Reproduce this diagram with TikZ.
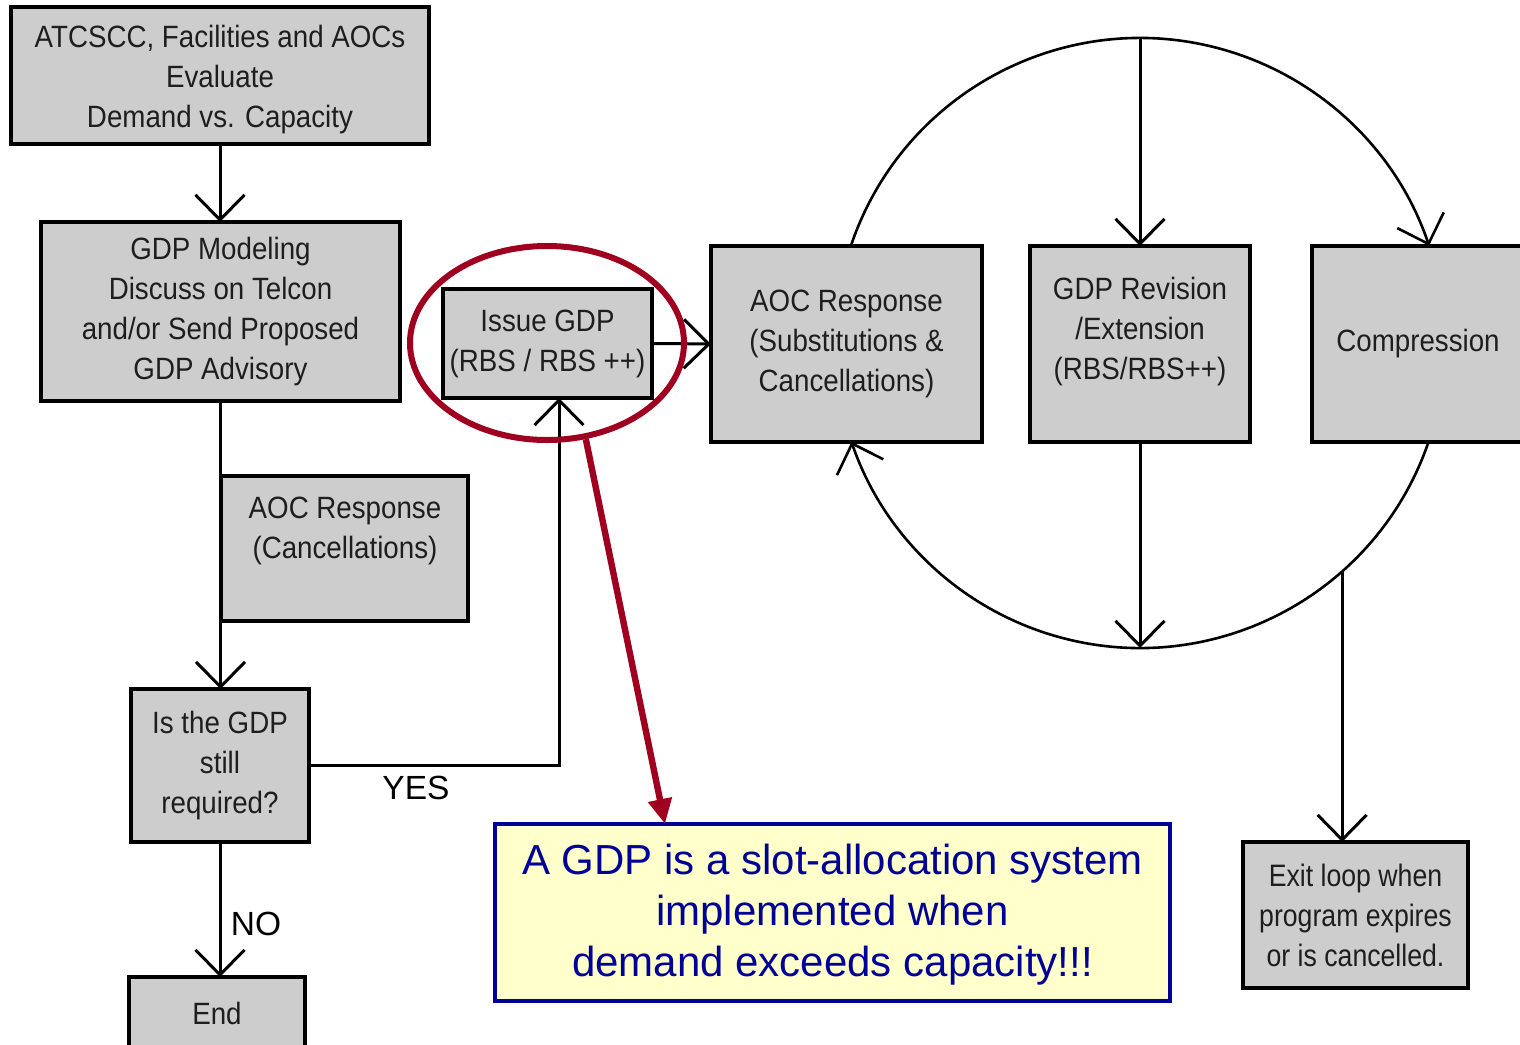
\documentclass[tikz,border=0pt]{standalone}
\usepackage{fontspec}
\setmainfont{Liberation Sans}
\newfontfamily\condf[FakeStretch=0.9]{Liberation Sans}
\newfontfamily\exitf[FakeStretch=0.86]{Liberation Sans}
\usetikzlibrary{arrows.meta,shapes.geometric,calc}
\definecolor{boxgray}{RGB}{205,205,205}
\definecolor{inkgray}{RGB}{30,30,30}
\definecolor{ringred}{RGB}{160,0,32}
\definecolor{noteblue}{RGB}{0,0,150}
\definecolor{notefill}{RGB}{255,255,204}

\begin{document}
\begin{tikzpicture}[x=0.5pt,y=0.5pt,
  >={Straight Barb[length=12.5pt,width=24.5pt]},
  box/.style={draw=black, line width=1.75pt, fill=boxgray, anchor=north west,
    inner sep=0pt, outer sep=0pt, align=center, text=inkgray,
    font=\condf\fontsize{15.4}{20}\selectfont},
  boxtxt/.style={align=center, text=inkgray, inner sep=0pt,
    font=\condf\fontsize{15.4}{20}\selectfont},
  flow/.style={line width=1.5pt, ->},
  loopline/.style={line width=1.3pt, ->},
  lbl/.style={font=\fontsize{16.75}{20}\selectfont, text=black, inner sep=0pt},
  notebox/.style={draw=noteblue, line width=1.75pt, fill=notefill, anchor=north west,
    inner sep=0pt, outer sep=0pt},
  notetxt/.style={align=center, text=noteblue, inner sep=0pt,
    font=\fontsize{21}{25.5}\selectfont},
]
\useasboundingbox (0,0) rectangle (1520,-1044);
\clip (0,0) rectangle (1520,-1044);

% left-hand flow
\node[box, minimum width=209pt, minimum height=68.5pt] (atc) at (11,-7) {};
\node[boxtxt] (atctxt) at (220,-79.5)
  {ATCSCC, Facilities and AOCs\\Evaluate\\Demand vs. Capacity};
\node[box, minimum width=179.5pt, minimum height=89.5pt] (mod) at (41,-222)
  {GDP Modeling\\Discuss on Telcon\\and/or Send Proposed\\GDP Advisory};
\node[box, minimum width=123.5pt, minimum height=72.5pt] (can) at (221,-476) {};
\node[boxtxt] (cantxt) at (345,-531) {AOC Response\\(Cancellations)};
\node[box, minimum width=89pt, minimum height=76.5pt] (req) at (131,-689)
  {Is the GDP\\still\\required?};
\node[box, minimum width=88pt, minimum height=36pt] (end) at (129,-977) {End};
\node[box, minimum width=104.5pt, minimum height=54.5pt] (iss) at (443,-289)
  {Issue GDP\\(RBS / RBS ++)};

% loop boxes
\node[box, minimum width=135.5pt, minimum height=98pt] (aoc) at (711,-246)
  {AOC Response\\(Substitutions \&\\Cancellations)};
\node[box, minimum width=110pt, minimum height=98pt] (rev) at (1030,-246) {};
\node[boxtxt] (revtxt) at (1140,-332) {GDP Revision\\/Extension\\(RBS/RBS++)};
\node[box, minimum width=106pt, minimum height=98pt] (cmp) at (1312,-246) {Compression};
\node[box, minimum width=112.5pt, minimum height=73pt,
  font=\exitf\fontsize{15.5}{20}\selectfont] (ext) at (1243,-842)
  {Exit loop when\\program expires\\or is cancelled.};

% note
\node[notebox, minimum width=337.5pt, minimum height=88.5pt] (note) at (495,-824) {};
\node[notetxt] (notetext) at (832.5,-914.5)
  {A GDP is a slot-allocation system\\implemented when\\demand exceeds capacity!!!};

% left-hand connectors
\draw[flow] (atc.south) -- (atc.south |- mod.north);
\draw[flow] (mod.south) -- (mod.south |- req.north);
\draw[flow] (req.east) -| ([xshift=5.75pt]iss.south);
\node[lbl] (yes) at (416,-788) {YES};
\draw[flow] (req.south) -- (req.south |- end.north);
\node[lbl] (no) at (256,-924) {NO};
\draw[flow] (iss.east) -- (aoc.west);

% the loop
\coordinate (C) at (1140,-343);
\draw[loopline] ($(C)+(161.4:152.5pt)$) arc[start angle=161.4, end angle=18.6, radius=152.5pt];
\draw[loopline] ($(C)+(-18.9:152.5pt)$) arc[start angle=-18.9, end angle=-161.1, radius=152.5pt];
\coordinate (top) at ($(C)+(0,152.5pt)$);
\coordinate (bot) at ($(C)+(0,-152.5pt)$);
\draw[flow] (top) -- (rev.north);
\draw[flow] (rev.south) -- (bot);
\coordinate (exitpt) at ($(C)+(-48.5:152.5pt)$);
\draw[flow] (exitpt) -- (exitpt |- ext.north);

% highlight
\node[draw=ringred, line width=3pt, ellipse, minimum width=137pt, minimum height=97pt,
  inner sep=0pt] (ring) at (547,-343) {};
\draw[ringred, line width=3.2pt, -{Triangle[length=12.5pt,width=11.5pt]}]
  (ring.-68) -- ([xshift=85pt]note.north west);
\end{tikzpicture}
\end{document}
